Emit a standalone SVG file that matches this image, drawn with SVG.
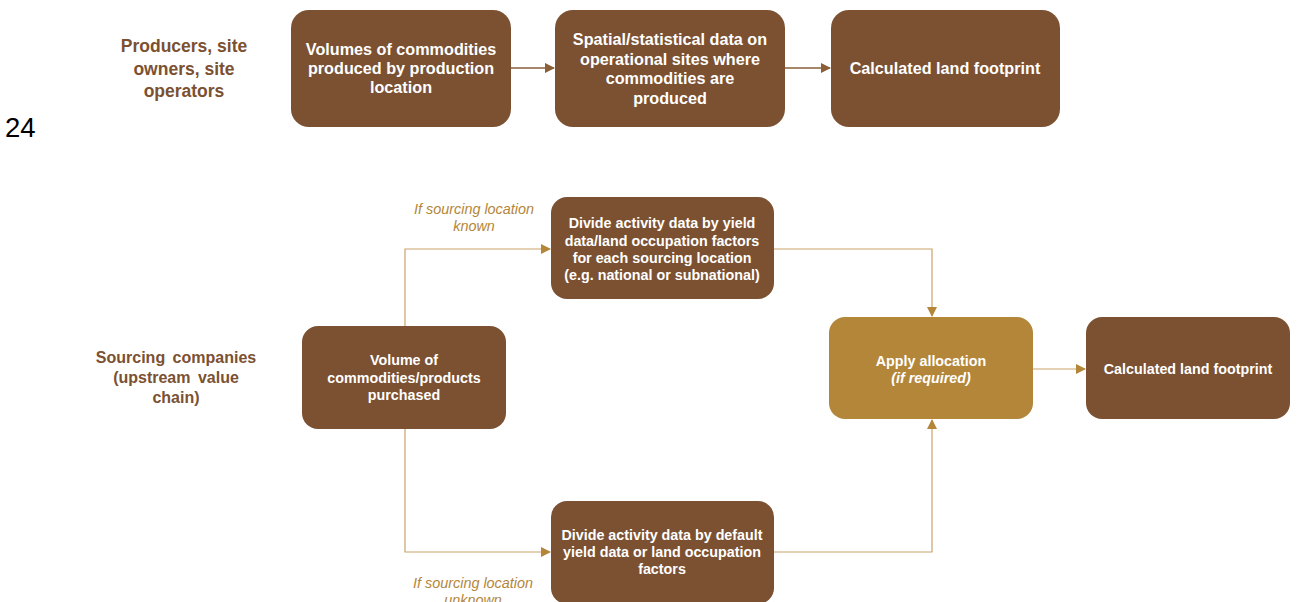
<svg xmlns="http://www.w3.org/2000/svg" width="1301" height="602" viewBox="0 0 1301 602">
  <style>
    .box { fill: #7b5132; }
    .alloc { fill: #b3863a; }
    .bt { font-family: "Liberation Sans", Arial, sans-serif; font-weight: bold; fill: #ffffff; text-anchor: middle; }
    .big { font-size: 16.2px; }
    .sm { font-size: 14.3px; }
    .role { font-family: "Liberation Sans", Arial, sans-serif; font-weight: bold; fill: #7b5132; text-anchor: middle; }
    .cond { font-family: "Liberation Sans", Arial, sans-serif; font-style: italic; fill: #b3863a; text-anchor: middle; font-size: 14.4px; }
    .c1 { fill: none; stroke: #8a5f37; stroke-width: 1.3; }
    .c2 { fill: none; stroke: #c9a36a; stroke-width: 1.2; }
  </style>
  <defs>
    <marker id="ah1" markerWidth="10" markerHeight="10" refX="9" refY="5" orient="auto" markerUnits="userSpaceOnUse">
      <path d="M0,0 L10,5 L0,10 Z" fill="#8a5f37"/>
    </marker>
    <marker id="ah2" markerWidth="10" markerHeight="10" refX="9" refY="5" orient="auto" markerUnits="userSpaceOnUse">
      <path d="M0,0 L10,5 L0,10 Z" fill="#b3863a"/>
    </marker>
  </defs>
  <rect width="1301" height="602" fill="#ffffff"/>

  <text x="5" y="137" font-family="Liberation Sans, Arial, sans-serif" font-size="27.5" fill="#000000">24</text>

  <g id="role-producers" font-size="17.5">
    <text class="role" x="184" y="52">Producers,  site</text>
    <text class="role" x="184" y="75">owners, site</text>
    <text class="role" x="184" y="97">operators</text>
  </g>
  <g id="role-sourcing" font-size="16">
    <text class="role" x="176" y="363" style="word-spacing:3px">Sourcing companies</text>
    <text class="role" x="176" y="383" style="word-spacing:3px">(upstream value</text>
    <text class="role" x="176" y="403">chain)</text>
  </g>

  <g id="connectors">
    <line class="c1" x1="511" y1="68" x2="554" y2="68" marker-end="url(#ah1)"/>
    <line class="c1" x1="785" y1="68" x2="830" y2="68" marker-end="url(#ah1)"/>
    <polyline class="c2" points="405,326 405,249 550,249" marker-end="url(#ah2)"/>
    <polyline class="c2" points="405,429 405,552 550,552" marker-end="url(#ah2)"/>
    <polyline class="c2" points="774,249 932,249 932,316" marker-end="url(#ah2)"/>
    <polyline class="c2" points="774,552 932,552 932,420" marker-end="url(#ah2)"/>
    <line class="c2" x1="1033" y1="369" x2="1085" y2="369" marker-end="url(#ah2)"/>
  </g>

  <g id="cond-known">
    <text class="cond" x="474" y="214">If sourcing location</text>
    <text class="cond" x="474" y="231">known</text>
  </g>
  <g id="cond-unknown">
    <text class="cond" x="473" y="588">If sourcing location</text>
    <text class="cond" x="473" y="605">unknown</text>
  </g>

  <g id="n-volumes-produced">
    <rect class="box" x="291" y="10" width="220" height="117" rx="18"/>
    <text class="bt big" x="401" y="55">Volumes of commodities</text>
    <text class="bt big" x="401" y="74">produced by production</text>
    <text class="bt big" x="401" y="93">location</text>
  </g>
  <g id="n-spatial-data">
    <rect class="box" x="555" y="10" width="230" height="117" rx="18"/>
    <text class="bt big" x="670" y="45">Spatial/statistical data on</text>
    <text class="bt big" x="670" y="65">operational sites where</text>
    <text class="bt big" x="670" y="84">commodities are</text>
    <text class="bt big" x="670" y="104">produced</text>
  </g>
  <g id="n-footprint-top">
    <rect class="box" x="831" y="10" width="229" height="117" rx="18"/>
    <text class="bt big" x="945" y="74">Calculated land footprint</text>
  </g>

  <g id="n-volume-purchased">
    <rect class="box" x="302" y="326" width="204" height="103" rx="16"/>
    <text class="bt sm" x="404" y="365">Volume of</text>
    <text class="bt sm" x="404" y="383">commodities/products</text>
    <text class="bt sm" x="404" y="400">purchased</text>
  </g>
  <g id="n-divide-known">
    <rect class="box" x="551" y="197" width="223" height="102" rx="16"/>
    <text class="bt sm" x="662" y="228">Divide activity data by yield</text>
    <text class="bt sm" x="662" y="246">data/land occupation factors</text>
    <text class="bt sm" x="662" y="263">for each sourcing location</text>
    <text class="bt sm" x="662" y="280">(e.g. national or subnational)</text>
  </g>
  <g id="n-divide-default">
    <rect class="box" x="551" y="501" width="223" height="103" rx="16"/>
    <text class="bt sm" x="662" y="540">Divide activity data by default</text>
    <text class="bt sm" x="662" y="557">yield data or land occupation</text>
    <text class="bt sm" x="662" y="574">factors</text>
  </g>
  <g id="n-allocation">
    <rect class="alloc" x="829" y="317" width="204" height="102" rx="16"/>
    <text class="bt sm" x="931" y="366">Apply allocation</text>
    <text class="bt sm" x="931" y="383" font-style="italic">(if required)</text>
  </g>
  <g id="n-footprint-bottom">
    <rect class="box" x="1086" y="317" width="204" height="102" rx="16"/>
    <text class="bt sm" x="1188" y="374">Calculated land footprint</text>
  </g>
</svg>
